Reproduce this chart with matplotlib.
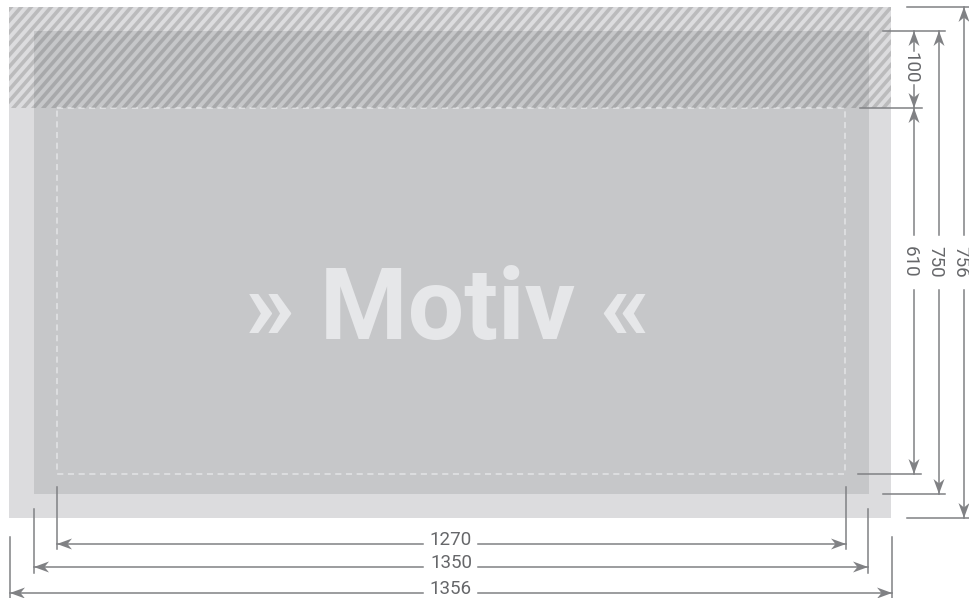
import numpy as np
import matplotlib.pyplot as plt
from matplotlib.patches import Rectangle, Polygon

# Dimension values (mm) shown on the drawing
width_labels = ['1270', '1350', '1356']
height_labels = ['610', '750', '756']
header_label = '100'
motif_text = '» Motiv «'

# Schematic layout in pixels (drawing is not to scale)
outer = (9, 7, 891, 518)      # x0, y0, x1, y1  -> 1356 x 756
inner = (34, 31, 869, 494)    # 1350 x 750
safe = (57, 108, 845, 474)    # 1270 x 610
hatch_bottom = 108

line_col = '#808184'
text_col = '#66676a'
lw = 1.1

fig = plt.figure(figsize=(9.7, 5.98), dpi=100)
ax = fig.add_axes([0, 0, 1, 1])
ax.set_xlim(0, 970)
ax.set_ylim(598, 0)
ax.axis('off')

# frames
ax.add_patch(Rectangle((outer[0], outer[1]), outer[2] - outer[0], outer[3] - outer[1],
                       facecolor='#dcdcde', edgecolor='none'))
ax.add_patch(Rectangle((inner[0], inner[1]), inner[2] - inner[0], inner[3] - inner[1],
                       facecolor='#c6c7c9', edgecolor='none'))

# hatched header area
clip = Rectangle((outer[0], outer[1]), outer[2] - outer[0], hatch_bottom - outer[1],
                 transform=ax.transData, facecolor='none', edgecolor='none')
ax.add_patch(clip)
period = 10
for x0 in np.arange(outer[0] - 130, outer[2] + 10, period):
    ln, = ax.plot([x0, x0 + 100], [hatch_bottom + 5, hatch_bottom + 5 - 115],
                  color='black', alpha=0.15, lw=2.6, solid_capstyle='butt')
    ln.set_clip_path(clip)

# dashed safe area
ax.add_patch(Rectangle((safe[0], safe[1]), safe[2] - safe[0], safe[3] - safe[1],
                       facecolor='none', edgecolor='#e4e5e7', lw=1.1,
                       linestyle=(0, (4, 3))))

ax.text(448, 339, motif_text, color='#e6e7e9', fontsize=72, fontweight='bold',
        family=['Roboto', 'DejaVu Sans'], ha='center', va='baseline')


def arrow_head(tip, direction):
    d = np.array(direction, dtype=float)
    p = np.array([-d[1], d[0]])
    t = np.array(tip, dtype=float)
    L, w, n = 15, 5.5, 4.5
    pts = [t, t - L * d + w * p, t - (L - n) * d, t - L * d - w * p]
    ax.add_patch(Polygon(pts, closed=True, facecolor=line_col, edgecolor='none'))


def dim_line(a, b, fixed, center, gap, label, vertical):
    segs = [(a, center - gap), (center + gap, b)]
    for s0, s1 in segs:
        if vertical:
            ax.plot([fixed, fixed], [s0, s1], color=line_col, lw=lw)
        else:
            ax.plot([s0, s1], [fixed, fixed], color=line_col, lw=lw)
    if vertical:
        arrow_head((fixed, a), (0, -1))
        arrow_head((fixed, b), (0, 1))
        ax.text(fixed - 4, center, label, rotation=-90, ha='center', va='center',
                fontsize=13.5, color=text_col, family='Roboto')
    else:
        arrow_head((a, fixed), (-1, 0))
        arrow_head((b, fixed), (1, 0))
        ax.text(center, fixed + 1, label, ha='center', va='baseline',
                fontsize=13.5, color=text_col, family='Roboto')


# bottom dimensions
bottom_frames = [(safe[0], safe[2] + 1, 544), (inner[0], inner[2] - 1, 567), (outer[0] + 1, outer[2] + 1, 593)]
ext_top = [487, 509, 537]
ext_bot = [549, 573, 598]
for (x0, x1, y), lab, t0, t1 in zip(bottom_frames, width_labels, ext_top, ext_bot):
    for x in (x0, x1):
        ax.plot([x, x], [t0, t1], color=line_col, lw=lw)
    dim_line(x0, x1, y, 451, 27.5, lab, vertical=False)

# right dimensions
right_frames = [(safe[1], safe[3], 914), (inner[1], inner[3], 939), (outer[1], outer[3], 964)]
ext_x = [(858, 921), (883, 945), (907, 970)]
for (y0, y1, x), lab, (e0, e1) in zip(right_frames, height_labels, ext_x):
    ax.plot([e0, e1], [y1, y1], color=line_col, lw=lw)
    if lab != '610':
        ax.plot([e0, e1], [y0, y0], color=line_col, lw=lw)
    dim_line(y0, y1, x, 262, 27.5, lab, vertical=True)

# header dimension
ax.plot([860, 922], [hatch_bottom, hatch_bottom], color=line_col, lw=lw)
dim_line(inner[1], hatch_bottom, 914, 68, 17, header_label, vertical=True)

fig.savefig('out.png', dpi=100)
